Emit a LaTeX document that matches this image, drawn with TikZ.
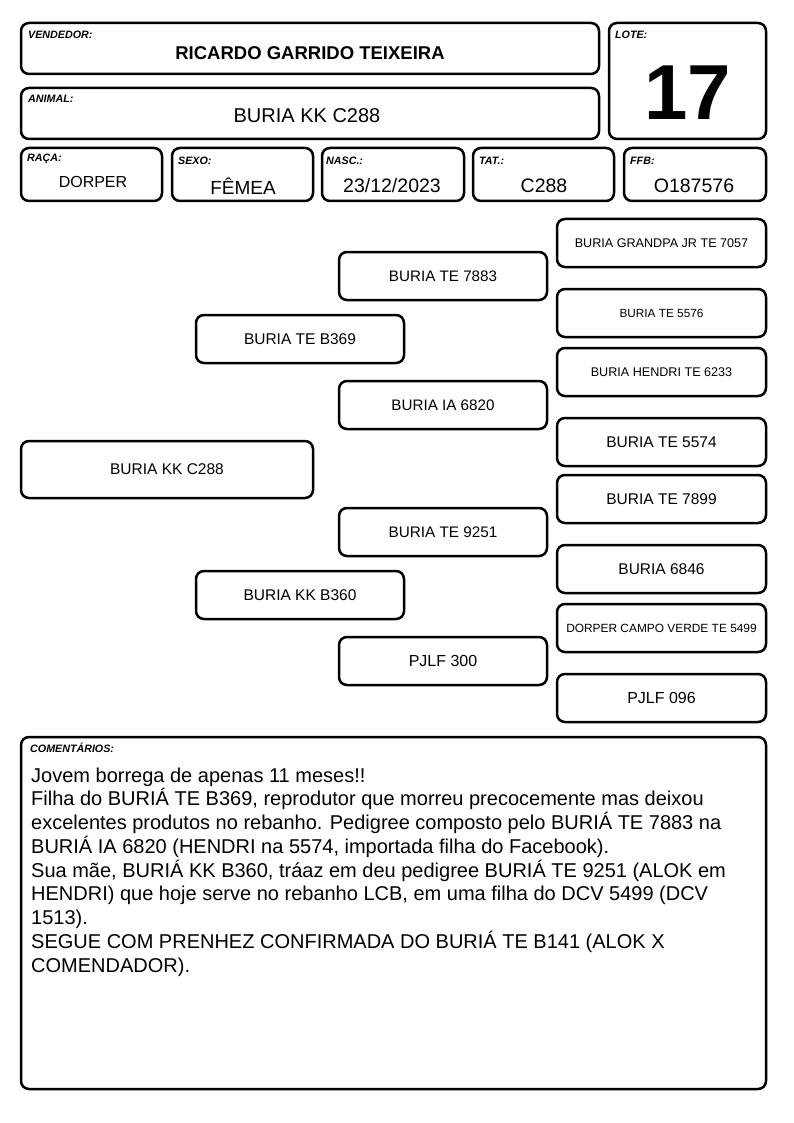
\documentclass[tikz,border=0pt]{standalone}
\usepackage{fontspec}
\setmainfont{Liberation Sans}
\newcommand{\fs}[1]{\fontsize{#1}{#1}\selectfont}
\tikzset{
  x=1pt, y=-1pt,
  box/.style={draw, line width=2.5pt, rounded corners=8pt, inner sep=0pt, align=center},
  lbl/.style={anchor=west, inner sep=0pt, font=\fs{10.7}\bfseries\itshape},
}
\newcommand{\bx}[6]{% name, x1, y1, x2, y2, text
  \node[box, minimum width={#4-#2}, minimum height={#5-#3}] (#1) at ({(#2+#4)/2},{(#3+#5)/2}) {#6};}
\begin{document}
\begin{tikzpicture}
\useasboundingbox (0,0) rectangle (794,1123);
% header
\bx{vend}{21}{23}{599}{74}{}
\bx{anim}{21}{88}{599}{139}{}
\bx{lote}{609}{23}{766}{139}{}
\bx{raca}{21}{148}{162}{201}{}
\bx{sexo}{172}{148}{313}{201}{}
\bx{nasc}{322}{148}{464}{201}{}
\bx{tat}{473}{148}{614}{201}{}
\bx{ffb}{624}{148}{766}{201}{}
\node[lbl] (lvend) at (28,35) {VENDEDOR:};
\node[lbl] (lanim) at (28,99) {ANIMAL:};
\node[lbl] (llote) at (615,35) {LOTE:};
\node[lbl] (lraca) at (27,159) {RAÇA:};
\node[lbl] (lsexo) at (178,161) {SEXO:};
\node[lbl] (lnasc) at (326,161) {NASC.:};
\node[lbl] (ltat) at (479,161) {TAT.:};
\node[lbl] (lffb) at (630,161) {FFB:};
\node[inner sep=0pt, font=\fs{18.5}\bfseries] (tvend) at (310,53) {RICARDO GARRIDO TEIXEIRA};
\node[inner sep=0pt, font=\fs{20}] (tanim) at (307,116) {BURIA KK C288};
\node[inner sep=0pt, font=\fs{78}\bfseries] (tlote) at (688,93) {17};
\node[inner sep=0pt, font=\fs{16}] (traca) at (93,182) {DORPER};
\node[inner sep=0pt, font=\fs{19}] (tsexo) at (243,186) {FÊMEA};
\node[inner sep=0pt, font=\fs{19.5}] (tnasc) at (392,186) {23/12/2023};
\node[inner sep=0pt, font=\fs{19.5}] (ttat) at (544,186) {C288};
\node[inner sep=0pt, font=\fs{19.5}] (tffb) at (694,186) {O187576};
% pedigree
\bx{p0}{21}{441}{313}{498}{\fs{15.5}BURIA KK C288}
\bx{p1}{196}{315}{404}{363}{\fs{15.5}BURIA TE B369}
\bx{p2}{196}{571}{404}{619}{\fs{15.5}BURIA KK B360}
\bx{p11}{339}{252}{547}{300}{\fs{15.2}BURIA TE 7883}
\bx{p12}{339}{381}{547}{429}{\fs{15.2}BURIA IA 6820}
\bx{p21}{339}{508}{547}{556}{\fs{15.3}BURIA TE 9251}
\bx{p22}{339}{637}{547}{685}{\fs{16}PJLF 300}
\bx{g1}{557}{219}{766}{267}{\fs{12.6}BURIA GRANDPA JR TE 7057}
\bx{g2}{557}{289}{766}{337}{\fs{11.8}BURIA TE 5576}
\bx{g3}{557}{348}{766}{396}{\fs{12.6}BURIA HENDRI TE 6233}
\bx{g4}{557}{418}{766}{466}{\fs{15.5}BURIA TE 5574}
\bx{g5}{557}{475}{766}{523}{\fs{15.5}BURIA TE 7899}
\bx{g6}{557}{545}{766}{593}{\fs{15.5}BURIA 6846}
\bx{g7}{557}{604}{766}{652}{\fs{11.9}DORPER CAMPO VERDE TE 5499}
\bx{g8}{557}{674}{766}{722}{\fs{16}PJLF 096}
% comments
\bx{com}{21}{737}{766}{1089}{}
\node[lbl] (lcom) at (30,748) {COMENTÁRIOS:};
\node[anchor=north west, inner sep=0pt, align=left, font={\fontsize{20}{23.75}\selectfont}] (tcom) at (31,767.5) {Jovem borrega de apenas 11 meses!!\\
Filha do BURIÁ TE B369, reprodutor que morreu precocemente mas deixou\\
excelentes produtos no rebanho. Pedigree composto pelo BURIÁ TE 7883 na\\
BURIÁ IA 6820 (HENDRI na 5574, importada filha do Facebook).\\
Sua mãe, BURIÁ KK B360, tráaz em deu pedigree BURIÁ TE 9251 (ALOK em\\
HENDRI) que hoje serve no rebanho LCB, em uma filha do DCV 5499 (DCV\\
1513).\\
SEGUE COM PRENHEZ CONFIRMADA DO BURIÁ TE B141 (ALOK X\\
COMENDADOR).};
\end{tikzpicture}
\end{document}
